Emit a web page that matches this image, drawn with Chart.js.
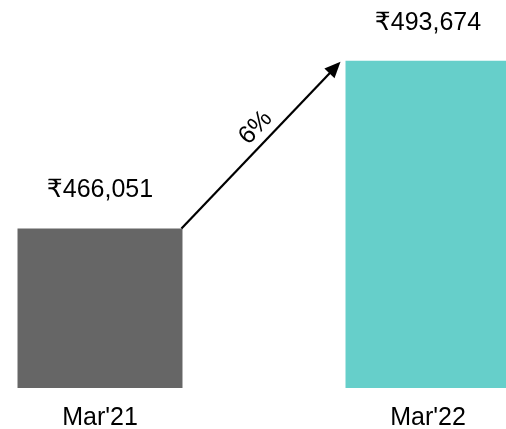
<!DOCTYPE html>
<html>
<head>
<meta charset="utf-8">
<script src="https://cdn.jsdelivr.net/npm/chart.js@4/dist/chart.umd.min.js"></script>
<style>
  html, body { margin: 0; padding: 0; background: #ffffff; overflow: hidden; width: 506px; height: 429px; }
  #wrap { position: absolute; left: -64px; top: 0; width: 656px; height: 448px; }
</style>
</head>
<body>
<div id="wrap"><canvas id="chart"></canvas></div>
<script>
// Year-end values (₹)
const categories = ["Mar'21", "Mar'22"];
const values = [466051, 493674];

// Value range shown on the hidden value axis
const yMin = 439740;
const yMax = 503700;

const FONT = "'Liberation Sans', Arial, 'DejaVu Sans', sans-serif";
const FONT_SIZE = 25;

function formatRupee(v) {
  return '\u20B9' + v.toLocaleString('en-US');
}

const growthPct = Math.round((values[1] / values[0] - 1) * 100) + '%';

// Draws the value above each bar and the growth arrow between the bars
const annotations = {
  id: 'annotations',
  afterDatasetsDraw(chart) {
    const ctx = chart.ctx;
    const bars = chart.getDatasetMeta(0).data;
    ctx.save();
    ctx.fillStyle = '#000000';
    ctx.font = FONT_SIZE + 'px ' + FONT;
    ctx.textAlign = 'center';
    ctx.textBaseline = 'alphabetic';
    bars.forEach((bar, i) => {
      ctx.fillText(formatRupee(values[i]), bar.x, bar.y - 31);
    });

    // arrow from the first bar's top-right corner to the second bar's top-left
    const a = bars[0], b = bars[1];
    const x1 = a.x + a.width / 2 - 1, y1 = a.y;
    const x2 = b.x - b.width / 2 - 5, y2 = b.y + 1;
    const ang = Math.atan2(y2 - y1, x2 - x1);
    const head = 16, half = 7;
    ctx.strokeStyle = '#000000';
    ctx.lineWidth = 2.2;
    ctx.beginPath();
    ctx.moveTo(x1, y1);
    ctx.lineTo(x2 - Math.cos(ang) * (head - 2), y2 - Math.sin(ang) * (head - 2));
    ctx.stroke();
    ctx.beginPath();
    ctx.moveTo(x2, y2);
    const bx = x2 - Math.cos(ang) * head, by = y2 - Math.sin(ang) * head;
    ctx.lineTo(bx + Math.sin(ang) * half, by - Math.cos(ang) * half);
    ctx.lineTo(bx - Math.sin(ang) * half, by + Math.cos(ang) * half);
    ctx.closePath();
    ctx.fill();

    // growth label along the arrow
    ctx.translate((x1 + x2) / 2, (y1 + y2) / 2);
    ctx.rotate(ang);
    ctx.fillText(growthPct, 9, -9);
    ctx.restore();
  }
};

new Chart(document.getElementById('chart'), {
  type: 'bar',
  data: {
    labels: categories,
    datasets: [{
      data: values,
      backgroundColor: ['#666666', '#66CFCA'],
      borderWidth: 0,
      barPercentage: 1,
      categoryPercentage: 0.503
    }]
  },
  options: {
    responsive: true,
    maintainAspectRatio: false,
    animation: false,
    layout: { padding: 0 },
    plugins: { legend: { display: false }, tooltip: { enabled: false } },
    scales: {
      x: {
        grid: { display: false, drawTicks: false },
        border: { display: false },
        ticks: { color: '#000000', font: { size: FONT_SIZE, family: FONT }, padding: 15 }
      },
      y: {
        display: false,
        min: yMin,
        max: yMax
      }
    }
  },
  plugins: [annotations]
});
</script>
</body>
</html>
